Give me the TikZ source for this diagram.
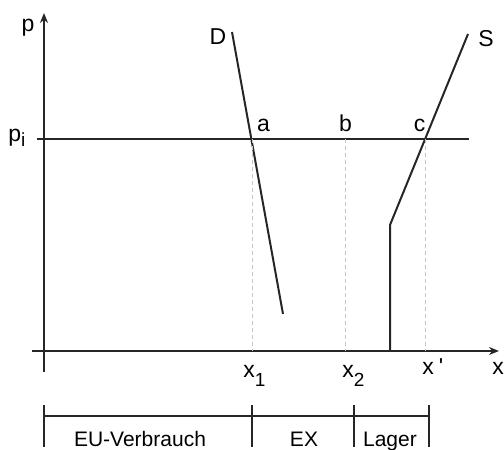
\documentclass[tikz,border=0pt]{standalone}
\usepackage{fontspec}
\setmainfont{Liberation Sans}
\usetikzlibrary{arrows.meta, positioning, calc}
\newcommand{\idx}[2][4.5pt]{\raisebox{-#1}{\fontsize{9.5}{10}\selectfont #2}}

\begin{document}
\begin{tikzpicture}[
    x=0.5pt, y=0.5pt,
    font=\fontsize{10.5}{12}\selectfont,
    >={Stealth[length=5pt, width=4pt]},
    curve/.style={line width=1pt, black!85},
    axis/.style={line width=0.9pt, black!85},
    guide/.style={gray!45, line width=0.5pt, dash pattern=on 2pt off 1.5pt},
    lbl/.style={inner sep=0pt, anchor=base, font=\fontsize{11.5}{13}\selectfont},
    seg/.style={inner sep=0pt, anchor=base},
]
    \useasboundingbox (-44,-99) rectangle (460,351);

    % axes
    \coordinate (O) at (0,0);
    \coordinate (ybot) at (0,-21);
    \coordinate (ytop) at (0,338);
    \coordinate (xleft) at (-12,0);
    \coordinate (xright) at (455,0);
    \draw[axis, ->] (ybot) -- (ytop);
    \draw[axis, ->] (xleft) -- (xright);

    % world price
    \coordinate (pl) at (-7,212);
    \coordinate (pr) at (425,212);
    \draw[curve] (pl) -- (pr);

    % demand and supply
    \coordinate (Dtop) at (188,319);
    \coordinate (a) at (208,212);
    \coordinate (Dbot) at (239,37);
    \draw[curve] (Dtop) -- (Dbot);
    \coordinate (Stop) at (424,317);
    \coordinate (b) at (301,212);
    \coordinate (c) at (381,212);
    \coordinate (kink) at (346,126);
    \coordinate (Sbot) at (346,0);
    \draw[curve] (Stop) -- (kink) -- (Sbot);

    \foreach \p in {a,b,c}
        \draw[guide] (\p) -- (\p |- O);

    % labels
    \node[lbl] (lp) at (-16,319) {p};
    \node[lbl, anchor=base west] (lpi) at (-36,209) {p\idx[2.5pt]{i}};
    \node[lbl] (lD) at (174,306) {D};
    \node[lbl] (lS) at (442,304) {S};
    \node[lbl] (la) at (219.5,219) {a};
    \node[lbl] (lb) at (301.5,219) {b};
    \node[lbl] (lc) at (375.5,219) {c};
    \node[lbl, anchor=base west] (lx1) at (199,-26) {x\idx{1}};
    \node[lbl, anchor=base west] (lx2) at (298,-26) {x\idx{2}};
    \node[lbl, anchor=base west] (lxs) at (378,-24) {x\hspace{2.5pt}\textquotesingle};
    \node[lbl] (lx) at (454,-24) {x};

    % quantity segments
    \coordinate (s0) at (0,-65);
    \coordinate (s1) at (208,-65);
    \coordinate (s2) at (310,-65);
    \coordinate (s3) at (385,-65);
    \draw[curve] (s0) -- (s3);
    \foreach \t in {s0,s1,s2,s3}
        \draw[curve] ($(\t)+(0,11)$) -- ($(\t)+(0,-31)$);
    \node[seg] (eu) at (96,-96) {EU-Verbrauch};
    \node[seg] (ex) at (260,-96) {EX};
    \node[seg] (lager) at (346,-96) {Lager};
\end{tikzpicture}
\end{document}
